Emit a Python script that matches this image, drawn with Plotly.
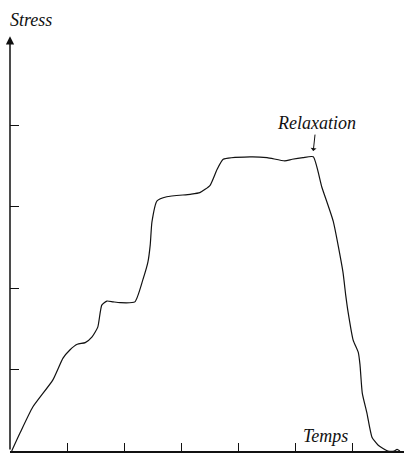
import plotly.graph_objects as go

# Data (time units, stress units)
temps = [0.03, 0.175, 0.40, 0.75, 0.93, 1.05, 1.18, 1.32, 1.44, 1.54, 1.61, 1.70, 1.81, 1.93,
         2.19, 2.33, 2.42, 2.46, 2.49, 2.58, 2.75, 3.16, 3.33, 3.51, 3.63, 3.74, 4.21, 4.51,
         4.82, 4.95, 5.14, 5.32, 5.47, 5.67, 5.84, 5.89, 5.93, 6.02, 6.11, 6.14, 6.18, 6.26,
         6.35, 6.46, 6.63, 6.74, 6.79, 6.84]
stress = [0.0, 0.22, 0.54, 0.87, 1.14, 1.24, 1.31, 1.33, 1.40, 1.52, 1.79, 1.84, 1.83, 1.82,
          1.83, 2.10, 2.32, 2.53, 2.81, 3.07, 3.12, 3.15, 3.17, 3.26, 3.45, 3.58, 3.61, 3.60,
          3.56, 3.58, 3.60, 3.61, 3.24, 2.82, 2.20, 1.91, 1.71, 1.36, 1.21, 1.06, 0.71, 0.47,
          0.17, 0.07, 0.0, 0.0, 0.02, 0.0]
x_ticks = [1, 2, 3, 4, 5, 6]
y_ticks = [1, 2, 3, 4]
relax_x = 5.32
relax_y = 3.61

X_MAX = 6.912
Y_MAX = 5.166
Y_ARROW = 5.09

FONT = "Liberation Serif"

fig = go.Figure()
fig.add_trace(go.Scatter(
    x=temps, y=stress, mode="lines",
    line=dict(color="#111111", width=1.2, shape="spline", smoothing=0.5),
    cliponaxis=False, hoverinfo="skip", showlegend=False,
))

annotations = [
    # y-axis arrow
    dict(x=0, y=Y_ARROW, ax=0, ay=0, xref="x", yref="y", axref="x", ayref="y",
         text="", showarrow=True, arrowhead=2, arrowsize=1.1, arrowwidth=1.5,
         arrowcolor="#111111"),
    dict(x=-0.005, y=1.024, xref="paper", yref="paper", text="<i>Stress</i>", showarrow=False,
         xanchor="left", yanchor="middle", font=dict(family=FONT, size=18, color="#111111")),
    dict(x=5.53, y=0.18, xref="x", yref="y", text="<i>Temps</i>", showarrow=False,
         xanchor="center", yanchor="middle", font=dict(family=FONT, size=18, color="#111111")),
    dict(x=relax_x, y=relax_y + 0.07, xref="x", yref="y", text="<i>Relaxation</i>",
         showarrow=True, ax=3, ay=-28, arrowhead=1, arrowsize=1, arrowwidth=1,
         arrowcolor="#111111", font=dict(family=FONT, size=18, color="#111111")),
]

fig.update_layout(
    width=404, height=453,
    margin=dict(l=10, r=0, t=30, b=2),
    paper_bgcolor="white", plot_bgcolor="white",
    annotations=annotations,
    xaxis=dict(range=[0, X_MAX], showgrid=False, zeroline=False, showline=True,
               linecolor="#111111", linewidth=1.5, ticks="inside", tickvals=x_ticks,
               ticklen=8, tickwidth=1, tickcolor="#111111", showticklabels=False),
    yaxis=dict(range=[0, Y_MAX], showgrid=False, zeroline=False, showline=False,
               ticks="inside", tickvals=y_ticks, ticklen=9, tickwidth=1,
               tickcolor="#111111", showticklabels=False),
)

fig.write_html("out.html", config={"displayModeBar": False},
               post_script="document.body.style.margin='0';")
